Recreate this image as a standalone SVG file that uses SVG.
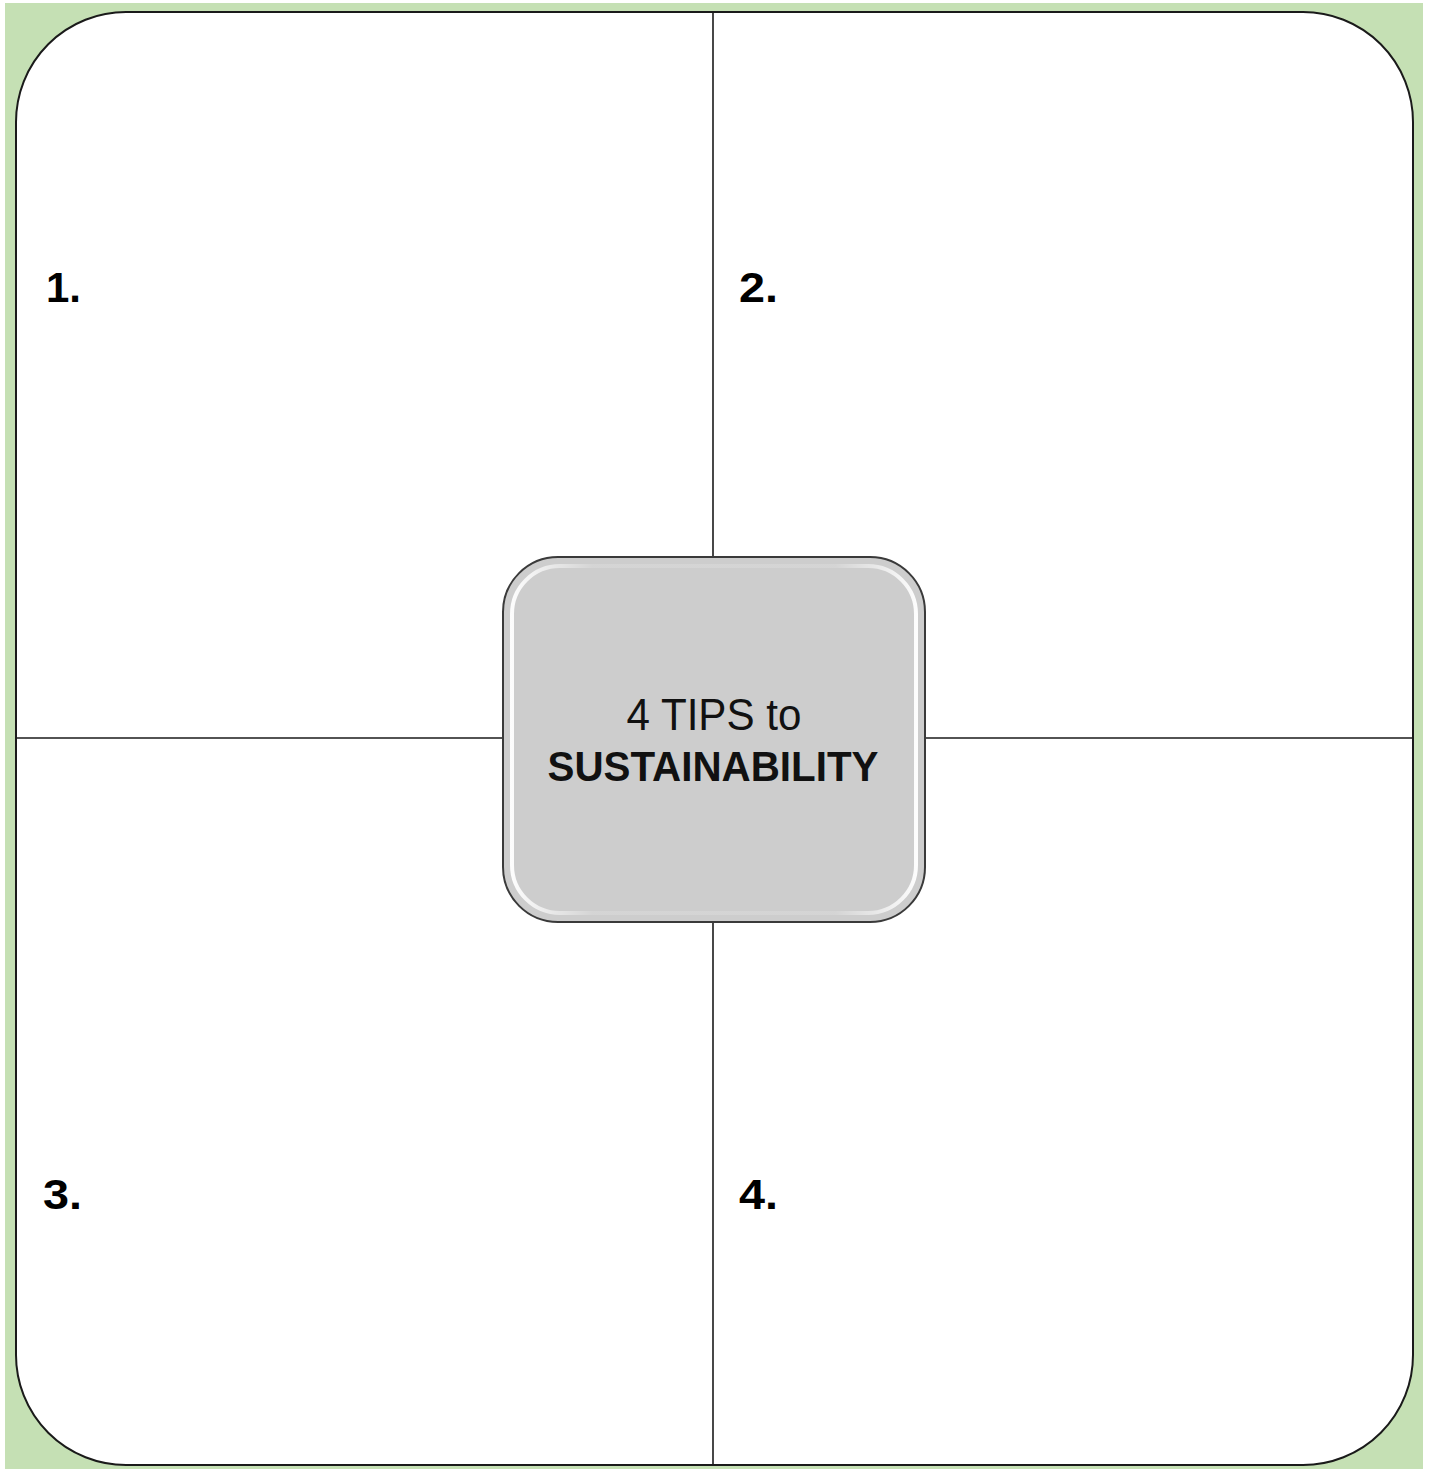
<svg xmlns="http://www.w3.org/2000/svg" width="1429" height="1469" viewBox="0 0 1429 1469">
<style>
.frame{fill:#ffffff;stroke:#1a1a1a;stroke-width:2}
.conn{stroke:#1a1a1a;stroke-width:1.6;fill:none}
.num{font-family:"Century Gothic","URW Gothic","Liberation Sans",sans-serif;font-weight:bold;font-size:42px;fill:#000}
.title{font-family:"Century Gothic","URW Gothic","Liberation Sans",sans-serif;fill:#111;text-anchor:middle}
</style>
<defs>
<linearGradient id="gloss" x1="0" y1="0" x2="1" y2="0">
<stop offset="0" stop-color="#ffffff" stop-opacity="0.95"/>
<stop offset="0.2" stop-color="#ffffff" stop-opacity="0.15"/>
<stop offset="0.8" stop-color="#ffffff" stop-opacity="0.15"/>
<stop offset="1" stop-color="#ffffff" stop-opacity="0.95"/>
</linearGradient>
</defs>
<rect x="0" y="0" width="1429" height="1469" fill="#ffffff"/>
<rect id="background" x="5" y="3" width="1418" height="1466" fill="#c5e0b4"/>
<g id="frame">
<rect class="frame" x="16" y="12" width="1397" height="1453" rx="110" ry="110"/>
</g>
<g id="connectors">
<line class="conn" x1="713" y1="12" x2="713" y2="557"/>
<line class="conn" x1="713" y1="922" x2="713" y2="1465"/>
<line class="conn" x1="16" y1="738" x2="503" y2="738"/>
<line class="conn" x1="925" y1="738" x2="1413" y2="738"/>
</g>
<g id="center">
<rect x="503" y="557" width="422" height="365" rx="55" ry="55" fill="#cdcdcd" stroke="#3a3a3a" stroke-width="2"/>
<rect x="512" y="566" width="404" height="347" rx="48" ry="48" fill="none" stroke="url(#gloss)" stroke-width="4"/>
<text class="title" x="714" y="730" font-size="44" textLength="175" lengthAdjust="spacingAndGlyphs">4 TIPS to</text>
<text class="title" x="713" y="781" font-size="43" font-weight="bold" textLength="331" lengthAdjust="spacingAndGlyphs">SUSTAINABILITY</text>
</g>
<g id="tip1"><text class="num" x="46" y="302" textLength="35" lengthAdjust="spacingAndGlyphs">1.</text></g>
<g id="tip2"><text class="num" x="739" y="302" textLength="39" lengthAdjust="spacingAndGlyphs">2.</text></g>
<g id="tip3"><text class="num" x="43" y="1209" textLength="39" lengthAdjust="spacingAndGlyphs">3.</text></g>
<g id="tip4"><text class="num" x="739" y="1209" textLength="39" lengthAdjust="spacingAndGlyphs">4.</text></g>
</svg>
